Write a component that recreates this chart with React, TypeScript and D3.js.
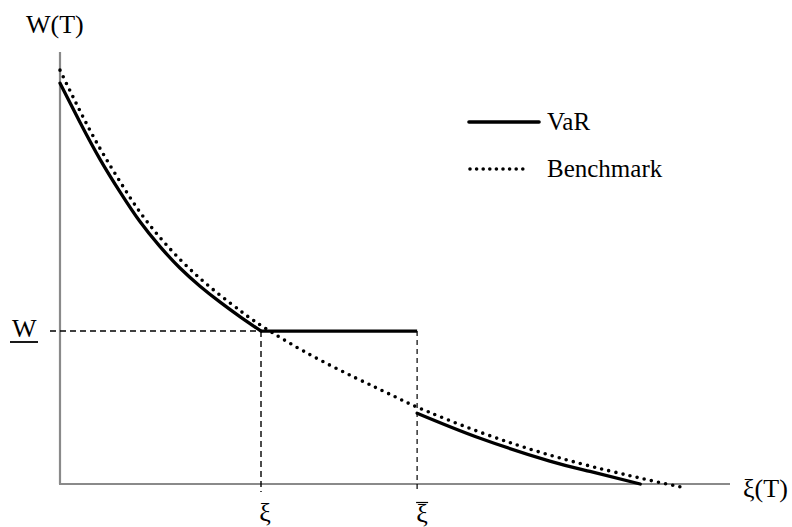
import React from "react";
import * as d3 from "d3";

// Terminal wealth W(T) against the state price density ξ(T), both in normalised units [0, 1].
const benchmarkXi = [0, 0.03, 0.06, 0.09, 0.119, 0.149, 0.179, 0.209, 0.239, 0.269, 0.303, 0.388, 0.488, 0.533, 0.627, 0.731, 0.816, 0.885, 0.93];
const benchmarkW = [0.958, 0.863, 0.776, 0.699, 0.63, 0.571, 0.52, 0.476, 0.437, 0.401, 0.364, 0.287, 0.211, 0.178, 0.12, 0.067, 0.032, 0.007, -0.008];

// VaR strategy: convex section down to ξ, flat at W between ξ and ξ̄, then a jump down.
const varLeftXi = [0, 0.03, 0.06, 0.09, 0.119, 0.149, 0.179, 0.209, 0.239, 0.269, 0.3];
const varLeftW = [0.928, 0.837, 0.751, 0.675, 0.608, 0.55, 0.5, 0.458, 0.421, 0.387, 0.354];
const varRightXi = [0.533, 0.627, 0.731, 0.791, 0.866];
const varRightW = [0.164, 0.106, 0.053, 0.029, 0.0];

const xiLow = 0.3; // ξ
const xiHigh = 0.533; // ξ̄
const wFloor = 0.354; // W

const legendLabels = ["VaR", "Benchmark"];

const W = 792;
const H = 527;
const FONT = "'Liberation Serif', 'Times New Roman', 'DejaVu Serif', serif";

export default function App() {
  const x = d3.scaleLinear().domain([0, 1]).range([60, 730]);
  const y = d3.scaleLinear().domain([0, 1]).range([484, 52]);

  const line = d3
    .line<[number, number]>()
    .x((d) => x(d[0]))
    .y((d) => y(d[1]))
    .curve(d3.curveNatural);

  const zip = (a: number[], b: number[]) => a.map((v, i) => [v, b[i]] as [number, number]);

  const benchPath = line(zip(benchmarkXi, benchmarkW)) || "";
  const varLeftPath = line(zip(varLeftXi, varLeftW)) || "";
  const varRightPath = line(zip(varRightXi, varRightW)) || "";
  const varFlatPath = d3.line()([
    [x(xiLow), y(wFloor)],
    [x(xiHigh), y(wFloor)],
  ]) || "";

  const axisColor = "#8a8a8a";
  const dash = "6 4";
  const txt = { fontFamily: FONT, fill: "#000" } as React.CSSProperties;

  return (
    <svg
      width={W}
      height={H}
      style={{ position: "absolute", left: 0, top: 0, display: "block", background: "#fff" }}
    >
      {/* axes */}
      <line x1={x(0)} y1={y(0)} x2={x(0)} y2={y(1)} stroke={axisColor} strokeWidth={2.2} />
      <line x1={x(0) - 1} y1={y(0)} x2={x(1)} y2={y(0)} stroke={axisColor} strokeWidth={2.2} />

      {/* reference lines at W, ξ and ξ̄ */}
      <line x1={50} y1={y(wFloor)} x2={x(xiLow)} y2={y(wFloor)} stroke="#000" strokeWidth={1.4} strokeDasharray={dash} />
      <line x1={x(xiLow)} y1={y(wFloor)} x2={x(xiLow)} y2={492} stroke="#000" strokeWidth={1.4} strokeDasharray={dash} />
      <line x1={x(xiHigh)} y1={y(wFloor)} x2={x(xiHigh)} y2={490} stroke="#000" strokeWidth={1.2} strokeDasharray="5 4" />

      {/* benchmark (dotted) */}
      <path d={benchPath} fill="none" stroke="#000" strokeWidth={3.6} strokeLinecap="round" strokeDasharray="0 7.3" />

      {/* VaR (solid) */}
      <path d={varLeftPath} fill="none" stroke="#000" strokeWidth={3.3} strokeLinecap="round" />
      <path d={varFlatPath} fill="none" stroke="#000" strokeWidth={3.3} />
      <path d={varRightPath} fill="none" stroke="#000" strokeWidth={3.3} strokeLinecap="round" />

      {/* legend */}
      <line x1={469} y1={122} x2={539} y2={122} stroke="#000" strokeWidth={3.6} strokeLinecap="round" />
      <text x={547} y={130} fontSize={25} style={txt}>{legendLabels[0]}</text>
      <line x1={470} y1={169} x2={529} y2={169} stroke="#000" strokeWidth={3.6} strokeLinecap="round" strokeDasharray="0 6.6" />
      <text x={547} y={177} fontSize={25} style={txt}>{legendLabels[1]}</text>

      {/* axis titles */}
      <text x={26} y={33} fontSize={26} style={txt}>W(T)</text>
      <text x={743} y={497} fontSize={26} style={txt}>ξ(T)</text>

      {/* W with underline */}
      <text x={12} y={337} fontSize={26} style={txt}>W</text>
      <line x1={10} y1={342} x2={38} y2={342} stroke="#000" strokeWidth={1.8} />

      {/* ξ and ξ̄ tick labels */}
      <text x={x(xiLow) + 4} y={521} fontSize={26} textAnchor="middle" style={txt}>ξ</text>
      <text x={x(xiHigh) + 5} y={522} fontSize={26} textAnchor="middle" style={txt}>ξ</text>
      <line x1={x(xiHigh) - 1} y1={502.5} x2={x(xiHigh) + 11} y2={502.5} stroke="#000" strokeWidth={1.2} />
    </svg>
  );
}
